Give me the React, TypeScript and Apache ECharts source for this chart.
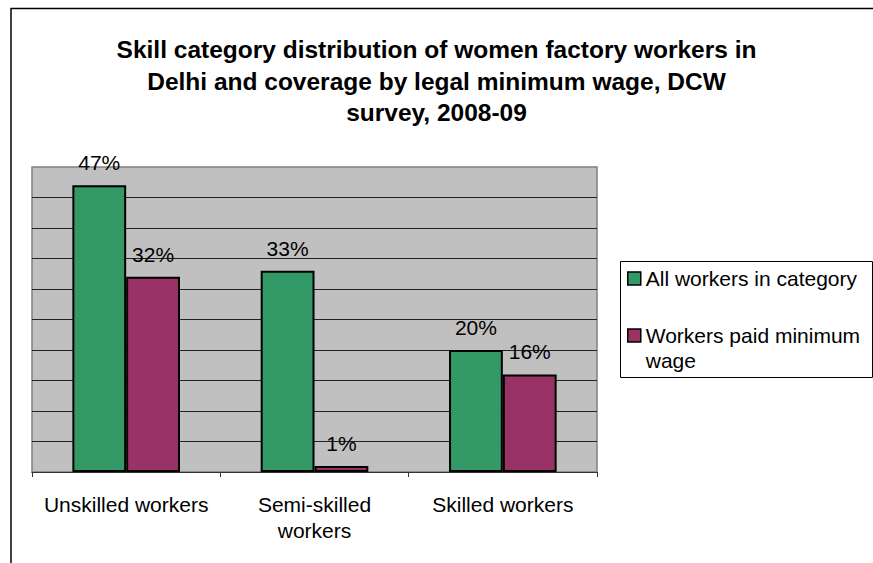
import React, { useEffect, useRef } from "react";
import * as echarts from "echarts";

const categories = ["Unskilled workers", "Semi-skilled\nworkers", "Skilled workers"];
const seriesNames = ["All workers in category", "Workers paid minimum wage"];
const allWorkers = [47, 33, 20];
const paidMinimum = [32, 1, 16];
const titleLines = [
  "Skill category distribution of women factory workers in",
  "Delhi and coverage by legal minimum wage, DCW",
  "survey, 2008-09",
];

const FONT = "'Liberation Sans', Arial, Helvetica, sans-serif";

export default function App() {
  const ref = useRef<HTMLDivElement>(null);
  useEffect(() => {
    if (!ref.current) return;
    const chart = echarts.init(ref.current, undefined, { renderer: "svg" });
    const labelCfg = {
      show: true,
      position: "top",
      distance: 12,
      formatter: "{c}%",
      color: "#000",
      fontSize: 21,
      fontFamily: FONT,
    };
    chart.setOption({
      animation: false,
      backgroundColor: "#fff",
      title: {
        text: titleLines.join("\n"),
        left: "center",
        top: 29,
        textStyle: {
          fontFamily: FONT,
          fontWeight: "bold",
          fontSize: 24.5,
          lineHeight: 31.5,
          color: "#000",
        },
      },
      graphic: [
        {
          type: "rect",
          shape: { x: 11, y: 8.5, width: 900, height: 600 },
          style: { fill: "none", stroke: "#000", lineWidth: 1.5 },
          silent: true,
        },
        {
          type: "rect",
          shape: { x: 620.5, y: 261.5, width: 252, height: 116 },
          style: { fill: "#fff", stroke: "#000", lineWidth: 1 },
          silent: true,
          z: -1,
        },
      ],
      legend: [
        {
          data: [seriesNames[0]],
          left: 627,
          top: 266,
          padding: 0,
          itemWidth: 13,
          itemHeight: 13,
          icon: "rect",
          itemStyle: { borderColor: "#000", borderWidth: 1.5 },
          textStyle: { fontFamily: FONT, fontSize: 21, lineHeight: 25, color: "#000" },
        },
        {
          data: [seriesNames[1]],
          left: 627,
          top: 298,
          padding: 0,
          itemWidth: 13,
          itemHeight: 13,
          icon: "rect",
          itemStyle: { borderColor: "#000", borderWidth: 1.5 },
          formatter: () => " \nWorkers paid minimum\nwage",
          textStyle: {
            fontFamily: FONT,
            fontSize: 21,
            lineHeight: 25,
            color: "#000",
          },
        },
      ],
      grid: {
        left: 32,
        top: 167,
        width: 565,
        height: 305,
        show: true,
        backgroundColor: "#c0c0c0",
        borderColor: "#808080",
        borderWidth: 1.5,
      },
      xAxis: {
        type: "category",
        data: categories,
        axisLine: { lineStyle: { color: "#333", width: 1 } },
        axisTick: { show: true, length: 5, lineStyle: { color: "#333" } },
        axisLabel: {
          color: "#000",
          fontFamily: FONT,
          fontSize: 21,
          lineHeight: 26,
          margin: 19,
          interval: 0,
        },
      },
      yAxis: {
        type: "value",
        min: 0,
        max: 50,
        interval: 5,
        axisLabel: { show: false },
        axisLine: { show: false },
        axisTick: { show: false },
        splitLine: {
          show: true,
          showMaxLine: false,
          lineStyle: { color: "#222", width: 1 },
        },
      },
      series: [
        {
          name: seriesNames[0],
          type: "bar",
          data: allWorkers,
          barGap: "0%",
          barCategoryGap: "42.86%",
          itemStyle: { color: "#339966", borderColor: "#000", borderWidth: 2 },
          label: labelCfg,
        },
        {
          name: seriesNames[1],
          type: "bar",
          data: paidMinimum,
          barGap: "0%",
          barCategoryGap: "42.86%",
          itemStyle: { color: "#993366", borderColor: "#000", borderWidth: 2 },
          label: labelCfg,
        },
      ],
    });
    return () => chart.dispose();
  }, []);
  return (
    <div
      ref={ref}
      style={{ position: "fixed", left: 0, top: 0, width: 873, height: 563 }}
    />
  );
}
